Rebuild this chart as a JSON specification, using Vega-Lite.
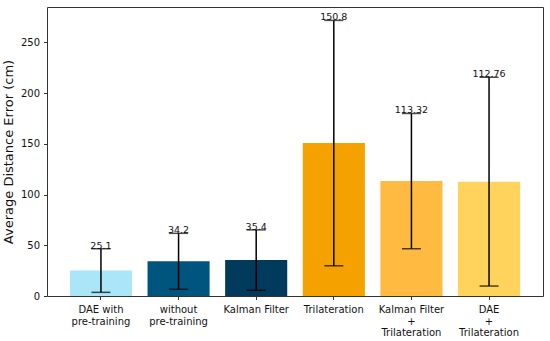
{
  "$schema": "https://vega.github.io/schema/vega-lite/v6.json",
  "width": 496,
  "height": 289,
  "autosize": {"type": "none"},
  "padding": {"left": 47, "top": 7, "right": 7, "bottom": 45},
  "background": "white",
  "config": {
    "font": "DejaVu Sans",
    "view": {"stroke": "#333333", "strokeWidth": 1}
  },
  "data": {
    "values": [
      {"method": "DAE with\npre-training", "mean": 25.1, "label": "25.1", "low": 3.6, "high": 46.6, "color": "#aae6f7"},
      {"method": "without\npre-training", "mean": 34.2, "label": "34.2", "low": 6.6, "high": 61.8, "color": "#00557f"},
      {"method": "Kalman Filter", "mean": 35.4, "label": "35.4", "low": 5.6, "high": 65.2, "color": "#003b5c"},
      {"method": "Trilateration", "mean": 150.8, "label": "150.8", "low": 29.8, "high": 271.8, "color": "#f5a200"},
      {"method": "Kalman Filter\n+\nTrilateration", "mean": 113.32, "label": "113.32", "low": 46.6, "high": 180.0, "color": "#ffba42"},
      {"method": "DAE\n+\nTrilateration", "mean": 112.76, "label": "112.76", "low": 9.8, "high": 215.7, "color": "#ffd35c"}
    ]
  },
  "encoding": {
    "x": {
      "field": "method",
      "type": "nominal",
      "sort": null,
      "scale": {"paddingInner": 0.2, "paddingOuter": 0.295},
      "axis": {
        "title": null,
        "labelAngle": 0,
        "labelExpr": "split(datum.value, '\\n')",
        "labelFontSize": 10,
        "labelColor": "#111111",
        "labelLineHeight": 11.5,
        "labelPadding": 5,
        "tickSize": 3.5,
        "tickColor": "#333333",
        "domain": false
      }
    }
  },
  "layer": [
    {
      "mark": {"type": "bar"},
      "encoding": {
        "y": {
          "field": "mean",
          "type": "quantitative",
          "scale": {"domain": [0, 285], "nice": false},
          "axis": {
            "title": "Average Distance Error (cm)",
            "titleFontSize": 13,
            "titleFontWeight": "normal",
            "titleColor": "#111111",
            "titlePadding": 5,
            "values": [0, 50, 100, 150, 200, 250],
            "labelFontSize": 10,
            "labelColor": "#111111",
            "labelPadding": 4,
            "tickSize": 3.5,
            "tickColor": "#333333",
            "grid": false,
            "domain": false
          }
        },
        "color": {"field": "color", "type": "nominal", "scale": null}
      }
    },
    {
      "mark": {"type": "rule", "color": "black", "strokeWidth": 1.5},
      "encoding": {
        "y": {"field": "low", "type": "quantitative"},
        "y2": {"field": "high"}
      }
    },
    {
      "mark": {"type": "tick", "color": "black", "size": 19, "thickness": 1.5},
      "encoding": {"y": {"field": "low", "type": "quantitative"}}
    },
    {
      "mark": {"type": "tick", "color": "black", "size": 19, "thickness": 1.5},
      "encoding": {"y": {"field": "high", "type": "quantitative"}}
    },
    {
      "mark": {"type": "text", "baseline": "alphabetic", "fontSize": 9.5, "color": "#111111", "dy": 0},
      "encoding": {
        "y": {"field": "high", "type": "quantitative"},
        "text": {"field": "label"}
      }
    }
  ]
}
